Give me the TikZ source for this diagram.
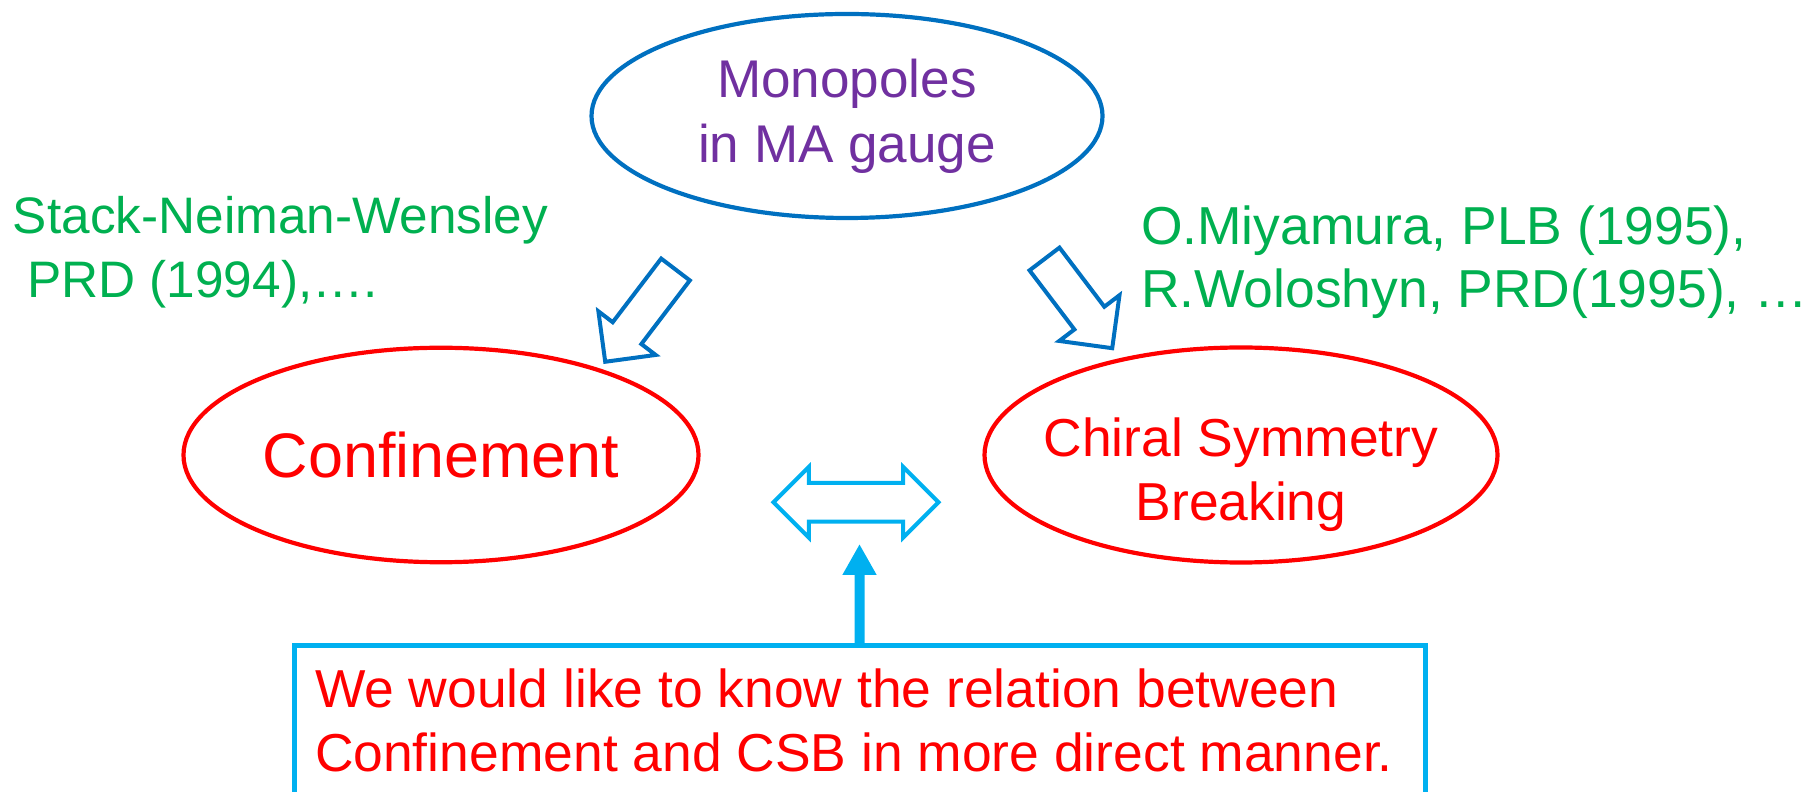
\documentclass[tikz,border=0pt]{standalone}
\usepackage{fontspec}
\setmainfont{Liberation Sans}
\usepackage{xcolor}
\usetikzlibrary{shapes,arrows.meta}
\definecolor{mablue}{HTML}{0070C0}
\definecolor{skyblue}{HTML}{00B0F0}
\definecolor{refgreen}{HTML}{00B050}
\definecolor{monopurple}{HTML}{7030A0}

\begin{document}
\begin{tikzpicture}[every node/.style={inner sep=0pt,outer sep=0pt},
    oval node/.style={ellipse,draw,line width=0.042cm},
    ref node/.style={text=refgreen,align=left,anchor=north west},
    block node/.style={single arrow,draw=mablue,line width=0.04cm,single arrow tip angle=90,anchor=tail},
    main font/.style={font=\fontsize{15.2}{18.2}\selectfont}]

  \useasboundingbox (0,0) rectangle (18.08,7.91);
  \clip (0,0) rectangle (18.08,7.91);

  \node[oval node,draw=mablue,minimum width=5.11cm,minimum height=2.04cm,text=monopurple,align=center,font=\fontsize{15.1}{18.5}\selectfont] (mono) at (8.47,6.75) {Monopoles\\in MA gauge};
  \node[oval node,draw=red,minimum width=5.15cm,minimum height=2.145cm,text=red,font=\fontsize{17.9}{21}\selectfont] (conf) at (4.41,3.36) {Confinement};
  \node[oval node,draw=red,minimum width=5.13cm,minimum height=2.15cm] (csb) at (12.41,3.36) {};
  \node[main font,text=red,align=center] (csbtext) at ([yshift=-0.2cm]csb.center) {Chiral Symmetry\\Breaking};

  \node[ref node,font=\fontsize{14.6}{18.2}\selectfont] (snw) at (0.13,5.95) {Stack-Neiman-Wensley\\\mbox{}\ PRD (1994),….};
  \node[ref node,font=\fontsize{15.2}{17.9}\selectfont] (miya) at (11.41,5.85) {O.Miyamura, PLB (1995),\\R.Woloshyn, PRD(1995), …};

  \node[block node,rotate=232.7,minimum height=1.16cm,inner ysep=0.16cm,single arrow head extend=0.18cm] (larrow) at (6.755,5.215) {};
  \node[block node,rotate=-52.8,minimum height=1.12cm,inner ysep=0.168cm,single arrow head extend=0.19cm] (rarrow) at (10.445,5.32) {};

  \node[double arrow,draw=skyblue,line width=0.04cm,double arrow tip angle=90,minimum height=1.65cm,inner ysep=0.1735cm,double arrow head extend=0.16cm] (link) at (8.56,2.887) {};

  \node[draw=skyblue,line width=0.05cm,minimum width=11.31cm,minimum height=2cm,anchor=north west] (qbox) at (2.94,1.455) {};
  \node[main font,text=red,align=left,anchor=north west] (qtext) at ([xshift=0.21cm,yshift=-0.235cm]qbox.north west) {We would like to know the relation between\\Confinement and CSB in more direct manner.};

  \coordinate (tip) at (8.595,2.47);
  \draw[skyblue,line width=0.1cm,-{Triangle[width=0.32cm,length=0.31cm]}] (qbox.north) -- (tip);
\end{tikzpicture}
\end{document}
